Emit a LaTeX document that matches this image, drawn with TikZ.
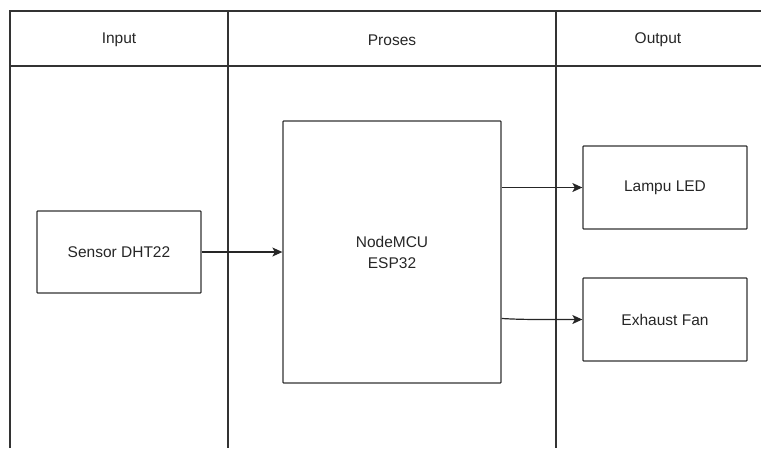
\documentclass[tikz,border=0pt]{standalone}
\usepackage{fontspec}
\setmainfont{Liberation Sans}
\usetikzlibrary{arrows.meta}
\begin{document}
\begin{tikzpicture}[x=1pt,y=-1pt,
  frame/.style={draw=black!80,line width=1.2pt},
  blockbox/.style={draw=black!80,line width=1.3pt,rounded corners=0.8pt,inner sep=0pt,font=\fontsize{15.5}{21}\selectfont,align=center,text=black!85},
  hdr/.style={font=\fontsize{15.5}{18}\selectfont,text=black!85},
  conn/.style={draw=black!85,line width=1.2pt,-{Stealth[length=10pt,width=9pt,inset=2.5pt]}}]
\useasboundingbox (0,0) rectangle (761,448);
% swimlane frame
\draw[frame] (10,448) -- (10,11) -- (761,11);
\draw[frame,line width=1.6pt] (10,66) -- (761,66);
\draw[frame] (228,11) -- (228,448);
\draw[frame] (556,11) -- (556,448);
% headers
\node[hdr] (hin) at (119,40) {Input};
\node[hdr] (hpr) at (392,40) {Proses};
\node[hdr] (hout) at (658,40) {Output};
% blocks
\node[blockbox,minimum width=164pt,minimum height=82pt] (sensor) at (119,252) {Sensor DHT22};
\node[blockbox,minimum width=218pt,minimum height=262pt] (mcu) at (392,252) {NodeMCU\\ESP32};
\node[blockbox,minimum width=164pt,minimum height=83pt] (led) at (665,187.5) {Lampu LED};
\node[blockbox,minimum width=164pt,minimum height=83pt] (fan) at (665,319.5) {Exhaust Fan};
% connectors
\draw[conn] (sensor.east) -- (mcu.west);
\draw[conn] (mcu.east |- led.west) -- (led.west);
\draw[conn] (mcu.east |- fan.west) ++(0,-1) .. controls +(20,1) .. (fan.west);
\end{tikzpicture}
\end{document}
